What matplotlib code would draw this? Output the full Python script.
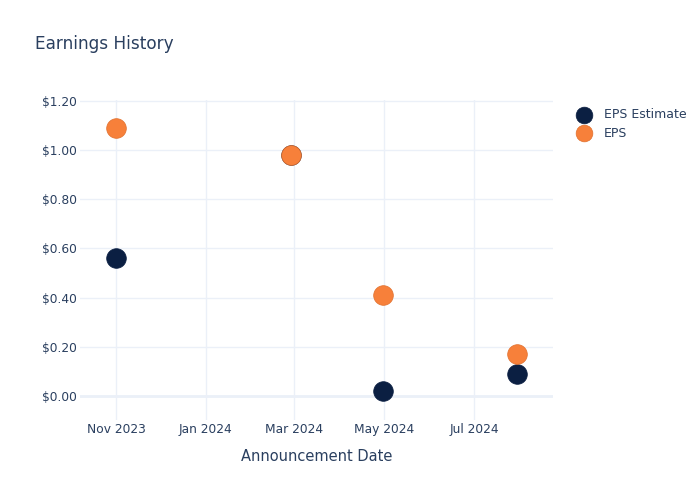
import matplotlib
matplotlib.use("Agg")
import matplotlib.pyplot as plt
import datetime as dt

dates = ["2023-11-01", "2024-02-28", "2024-04-30", "2024-07-30"]
eps_estimate = [0.56, 0.98, 0.02, 0.09]
eps_actual = [1.09, 0.98, 0.41, 0.17]
tick_dates = ["2023-11-01", "2024-01-01", "2024-03-01", "2024-05-01", "2024-07-01"]
tick_labels = ["Nov 2023", "Jan 2024", "Mar 2024", "May 2024", "Jul 2024"]
y_ticks = [0.0, 0.2, 0.4, 0.6, 0.8, 1.0, 1.2]

plt.rcParams['font.family'] = ['DejaVu Sans']
text_color = "#2a3f5f"
grid_color = "#EBF0F8"

fig = plt.figure(figsize=(7, 5), dpi=100)
ax = fig.add_axes([80/700, 80/500, 473/700, 320/500])

x = [dt.datetime.strptime(d, "%Y-%m-%d") for d in dates]
ax.scatter(x, eps_estimate, s=200, color="#0B1F42", edgecolors="#0B1F42", linewidths=0.5, zorder=3, label="EPS Estimate")
ax.scatter(x, eps_actual, s=200, color="#F7803A", edgecolors="#E0702E", linewidths=0.5, zorder=4, label="EPS")

ax.set_xlim(dt.datetime(2023, 10, 7, 14), dt.datetime(2024, 8, 23, 14))
ax.set_ylim(-0.098, 1.204)

xt = [dt.datetime.strptime(d, "%Y-%m-%d") for d in tick_dates]
ax.set_xticks(xt)
ax.set_xticklabels(tick_labels)
ax.set_yticks(y_ticks)
ax.set_yticklabels([f"${v:.2f}" for v in y_ticks])

for s in ax.spines.values():
    s.set_visible(False)
ax.grid(True, color=grid_color, linewidth=1, zorder=0)
ax.set_axisbelow(True)
ax.axhline(0, color=grid_color, linewidth=2, zorder=1)
ax.tick_params(axis='both', length=0, colors=text_color, labelsize=8.8)
ax.tick_params(axis='x', pad=2.5)
ax.tick_params(axis='y', pad=2)

ax.set_xlabel("Announcement Date", color=text_color, fontsize=10.5, labelpad=9)
fig.text(35/700, 1 - 44/500, "Earnings History", color=text_color, fontsize=12.2, va="center", ha="left")

leg = fig.legend(loc="upper left", bbox_to_anchor=(571/700, 1 - 108/500), frameon=False,
                 fontsize=9, labelcolor=text_color, handletextpad=0.6, labelspacing=0.45,
                 markerscale=0.85, borderpad=0, borderaxespad=0)

fig.savefig("out.png", dpi=100, facecolor="white")
